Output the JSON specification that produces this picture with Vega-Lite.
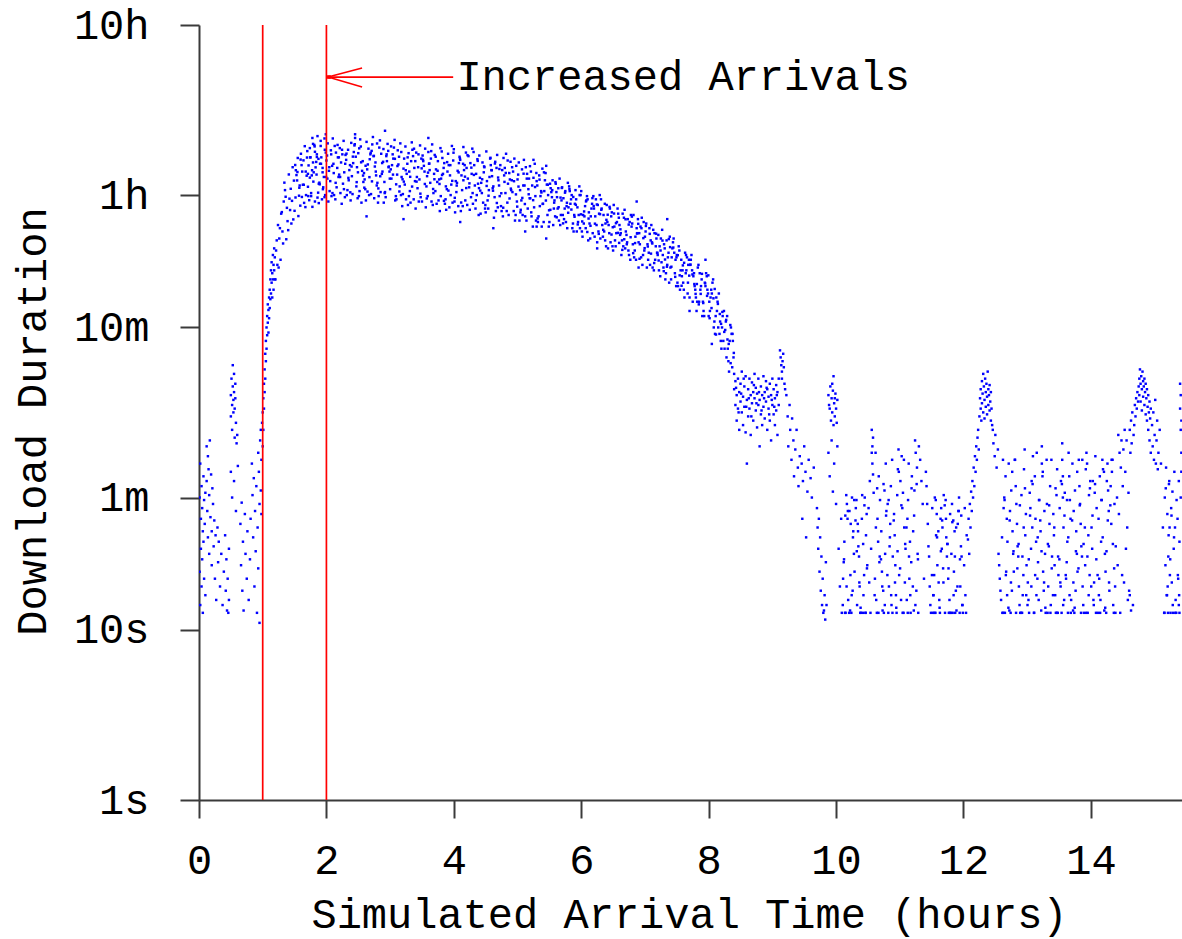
{
"$schema": "https://vega.github.io/schema/vega-lite/v6.json",
"width": 983, "height": 775,
"autosize": {"type": "none"},
"padding": {"left": 199, "top": 25, "right": 0, "bottom": 139},
"background": "white",
"config": {"view": {"stroke": null}, "font": "Liberation Mono"},
"datasets": {
"vlines": [{"t": 1}, {"t": 2}],
"shaft": [{"t": 2, "t2": 3.99, "d": 17800}],
"barbs": [{"t": 2.025, "d": 17800, "t2": 2.56, "d2": 20100}, {"t": 2.025, "d": 17800, "t2": 2.56, "d2": 15550}],
"tip": [{"t": 2.04, "d": 17800}],
"label": [{"t": 4.04, "d": 17800, "txt": "Increased Arrivals"}],
"pts": [
{"t":0.01,"d":60},{"t":0.01,"d":22},{"t":0.02,"d":95},{"t":0.02,"d":14},{"t":0.03,"d":45},{"t":0.03,"d":30},{"t":0.04,"d":70},{"t":0.04,"d":18},{"t":0.05,"d":52},{"t":0.05,"d":26},{"t":0.06,"d":38},{"t":0.06,"d":12.6},{"t":0.07,"d":80},{"t":0.07,"d":33},{"t":0.08,"d":58},{"t":0.08,"d":20},{"t":0.09,"d":42},{"t":0.1,"d":64},{"t":0.1,"d":16},
{"t":0.12,"d":120},{"t":0.12,"d":75},{"t":0.13,"d":50},{"t":0.14,"d":105},{"t":0.14,"d":35},{"t":0.15,"d":88},{"t":0.16,"d":62},{"t":0.16,"d":28},{"t":0.17,"d":130},{"t":0.18,"d":46},{"t":0.19,"d":82},{"t":0.2,"d":38},{"t":0.2,"d":24},{"t":0.21,"d":68},{"t":0.22,"d":55},{"t":0.23,"d":31},{"t":0.24,"d":44},{"t":0.25,"d":20},{"t":0.26,"d":36},{"t":0.27,"d":15},
{"t":0.29,"d":40},{"t":0.3,"d":25},{"t":0.31,"d":33},{"t":0.33,"d":18},{"t":0.35,"d":28},{"t":0.37,"d":14},{"t":0.39,"d":22},{"t":0.41,"d":36},{"t":0.42,"d":17},{"t":0.43,"d":26},{"t":0.44,"d":13},{"t":0.45,"d":20},{"t":0.46,"d":12.6},{"t":0.47,"d":30},{"t":0.47,"d":15},
{"t":0.5,"d":180},{"t":0.5,"d":240},{"t":0.51,"d":300},{"t":0.52,"d":210},{"t":0.52,"d":150},{"t":0.53,"d":270},{"t":0.53,"d":360},{"t":0.54,"d":225},{"t":0.54,"d":190},{"t":0.55,"d":320},{"t":0.55,"d":250},{"t":0.56,"d":200},{"t":0.56,"d":135},{"t":0.57,"d":280},{"t":0.57,"d":230},{"t":0.58,"d":165},{"t":0.59,"d":125},{"t":0.6,"d":140},{"t":0.5,"d":85},{"t":0.52,"d":60},{"t":0.55,"d":75},{"t":0.58,"d":50},{"t":0.61,"d":92},
{"t":0.65,"d":42},{"t":0.66,"d":24},{"t":0.67,"d":56},{"t":0.68,"d":17},{"t":0.69,"d":33},{"t":0.7,"d":13},{"t":0.72,"d":48},{"t":0.73,"d":28},{"t":0.75,"d":20},{"t":0.76,"d":38},{"t":0.78,"d":15},{"t":0.8,"d":26},{"t":0.81,"d":45},
{"t":0.83,"d":95},{"t":0.84,"d":62},{"t":0.85,"d":35},{"t":0.86,"d":78},{"t":0.87,"d":18},{"t":0.88,"d":50},{"t":0.89,"d":29},{"t":0.9,"d":70},{"t":0.91,"d":12.6},{"t":0.92,"d":40},{"t":0.93,"d":110},{"t":0.93,"d":23},{"t":0.94,"d":85},{"t":0.95,"d":55},{"t":0.95,"d":11},{"t":0.96,"d":130},{"t":0.97,"d":66},{"t":0.97,"d":150},{"t":0.98,"d":100},{"t":0.98,"d":48},
{"t":0.99,"d":165},{"t":1.0,"d":120},{"t":1.0,"d":190},{"t":1.01,"d":150},{"t":1.01,"d":230},{"t":1.02,"d":200},{"t":1.02,"d":280},{"t":1.03,"d":250},{"t":1.03,"d":340},{"t":1.04,"d":300},{"t":1.04,"d":420},{"t":1.05,"d":380},{"t":1.05,"d":500},{"t":1.06,"d":450},{"t":1.06,"d":600},{"t":1.07,"d":540},{"t":1.07,"d":700},{"t":1.08,"d":640},{"t":1.08,"d":820},{"t":1.09,"d":760},{"t":1.09,"d":560},{"t":1.1,"d":900},{"t":1.1,"d":680},{"t":1.11,"d":1000},{"t":1.11,"d":780},{"t":1.12,"d":1150},{"t":1.12,"d":880},{"t":1.13,"d":1300},{"t":1.13,"d":950},{"t":1.14,"d":1100},{"t":1.14,"d":1450},{"t":1.15,"d":1250},{"t":1.15,"d":900},{"t":1.16,"d":1600},{"t":1.16,"d":1150},{"t":1.17,"d":1400},{"t":1.17,"d":1000},{"t":1.18,"d":1750},{"t":1.18,"d":1300},{"t":1.19,"d":1550},{"t":1.19,"d":1150},
{"t":1.2,"d":1150},{"t":1.21,"d":1700},{"t":1.22,"d":1950},{"t":1.23,"d":1400},{"t":1.24,"d":2400},{"t":1.25,"d":1350},{"t":1.26,"d":2000},{"t":1.27,"d":2300},{"t":1.28,"d":1500},{"t":1.29,"d":2800},
{"t":1.33,"d":3300},{"t":1.37,"d":1980},{"t":1.3,"d":2860},{"t":1.35,"d":3850},{"t":1.39,"d":2530},{"t":1.32,"d":1870},{"t":1.36,"d":3520},{"t":1.31,"d":2200},{"t":1.38,"d":3030},{"t":1.34,"d":4260},
{"t":1.46,"d":3330},{"t":1.41,"d":4760},{"t":1.48,"d":2590},{"t":1.44,"d":3920},{"t":1.4,"d":2240},{"t":1.49,"d":4380},{"t":1.43,"d":2940},{"t":1.47,"d":5250},{"t":1.42,"d":3430},{"t":1.45,"d":2450},
{"t":1.59,"d":3120},{"t":1.54,"d":4390},{"t":1.52,"d":5040},{"t":1.57,"d":3570},{"t":1.55,"d":5950},{"t":1.5,"d":2910},{"t":1.58,"d":4100},{"t":1.53,"d":4720},{"t":1.56,"d":2710},{"t":1.51,"d":5410},
{"t":1.61,"d":5400},{"t":1.65,"d":3240},{"t":1.69,"d":4680},{"t":1.6,"d":6300},{"t":1.63,"d":4140},{"t":1.67,"d":3060},{"t":1.64,"d":5760},{"t":1.68,"d":3600},{"t":1.62,"d":4950},{"t":1.66,"d":6980},
{"t":1.74,"d":4560},{"t":1.7,"d":6530},{"t":1.76,"d":3550},{"t":1.72,"d":5380},{"t":1.78,"d":3070},{"t":1.75,"d":6000},{"t":1.71,"d":4030},{"t":1.79,"d":7200},{"t":1.77,"d":4700},{"t":1.73,"d":3360},
{"t":1.87,"d":3720},{"t":1.83,"d":5240},{"t":1.85,"d":6030},{"t":1.89,"d":4260},{"t":1.81,"d":7100},{"t":1.86,"d":3480},{"t":1.8,"d":4900},{"t":1.84,"d":5640},{"t":1.88,"d":3230},{"t":1.82,"d":6470},
{"t":1.92,"d":6000},{"t":1.98,"d":3600},{"t":1.94,"d":5200},{"t":1.91,"d":7000},{"t":1.96,"d":4600},{"t":1.93,"d":3400},{"t":1.99,"d":6400},{"t":1.95,"d":4000},{"t":1.9,"d":5500},{"t":1.97,"d":7750},
{"t":1.71,"d":4800},{"t":1.74,"d":6800},{"t":1.76,"d":3700},{"t":1.79,"d":5600},{"t":1.82,"d":3300},{"t":1.85,"d":6250},{"t":1.88,"d":4200},{"t":1.91,"d":7500},{"t":1.94,"d":4900},{"t":1.97,"d":3500},{"t":1.99,"d":8200},{"t":1.86,"d":8000},{"t":1.78,"d":7800},
{"t":2.05,"d":3800},{"t":2.09,"d":5350},{"t":2.01,"d":6150},{"t":2.06,"d":4350},{"t":2.02,"d":7250},{"t":2.08,"d":3550},{"t":2.04,"d":5000},{"t":2.0,"d":5750},{"t":2.03,"d":3300},{"t":2.07,"d":6600},
{"t":2.18,"d":6000},{"t":2.12,"d":3600},{"t":2.17,"d":5200},{"t":2.13,"d":7000},{"t":2.19,"d":4600},{"t":2.14,"d":3400},{"t":2.15,"d":6400},{"t":2.16,"d":4000},{"t":2.11,"d":5500},{"t":2.1,"d":7750},
{"t":2.2,"d":4750},{"t":2.21,"d":6800},{"t":2.22,"d":3700},{"t":2.23,"d":5600},{"t":2.24,"d":3200},{"t":2.25,"d":6250},{"t":2.26,"d":4200},{"t":2.27,"d":7500},{"t":2.28,"d":4900},{"t":2.29,"d":3500},
{"t":2.33,"d":3850},{"t":2.37,"d":5400},{"t":2.3,"d":6200},{"t":2.35,"d":4400},{"t":2.39,"d":7300},{"t":2.32,"d":3600},{"t":2.36,"d":5050},{"t":2.31,"d":5800},{"t":2.38,"d":3350},{"t":2.34,"d":6650},
{"t":2.46,"d":6050},{"t":2.41,"d":3650},{"t":2.48,"d":5250},{"t":2.44,"d":7050},{"t":2.4,"d":4650},{"t":2.49,"d":3450},{"t":2.43,"d":6450},{"t":2.47,"d":4050},{"t":2.42,"d":5550},{"t":2.45,"d":7800},
{"t":2.59,"d":4850},{"t":2.54,"d":6950},{"t":2.52,"d":3800},{"t":2.57,"d":5700},{"t":2.55,"d":3250},{"t":2.5,"d":6350},{"t":2.58,"d":4300},{"t":2.53,"d":7650},{"t":2.56,"d":5000},{"t":2.51,"d":3550},
{"t":2.61,"d":3900},{"t":2.65,"d":5450},{"t":2.69,"d":6250},{"t":2.6,"d":4450},{"t":2.63,"d":7400},{"t":2.67,"d":3600},{"t":2.64,"d":5100},{"t":2.68,"d":5850},{"t":2.62,"d":3350},{"t":2.66,"d":6750},
{"t":2.74,"d":6100},{"t":2.7,"d":3650},{"t":2.76,"d":5300},{"t":2.72,"d":7150},{"t":2.78,"d":4700},{"t":2.75,"d":3450},{"t":2.71,"d":6550},{"t":2.79,"d":4100},{"t":2.77,"d":5600},{"t":2.73,"d":7900},
{"t":2.87,"d":4800},{"t":2.83,"d":6850},{"t":2.85,"d":3750},{"t":2.89,"d":5650},{"t":2.81,"d":3250},{"t":2.86,"d":6300},{"t":2.8,"d":4250},{"t":2.84,"d":7550},{"t":2.88,"d":4950},{"t":2.82,"d":3550},
{"t":2.92,"d":3750},{"t":2.98,"d":5300},{"t":2.94,"d":6100},{"t":2.91,"d":4300},{"t":2.96,"d":7200},{"t":2.93,"d":3500},{"t":2.99,"d":4950},{"t":2.95,"d":5700},{"t":2.9,"d":3250},{"t":2.97,"d":6550},
{"t":3.05,"d":5900},{"t":3.09,"d":3550},{"t":3.01,"d":5100},{"t":3.06,"d":6850},{"t":3.02,"d":4500},{"t":3.08,"d":3350},{"t":3.04,"d":6250},{"t":3.0,"d":3900},{"t":3.03,"d":5400},{"t":3.07,"d":7600},
{"t":3.18,"d":4600},{"t":3.12,"d":6600},{"t":3.17,"d":3600},{"t":3.13,"d":5450},{"t":3.19,"d":3100},{"t":3.14,"d":6050},{"t":3.15,"d":4050},{"t":3.16,"d":7250},{"t":3.11,"d":4750},{"t":3.1,"d":3400},
{"t":3.2,"d":3650},{"t":3.21,"d":5150},{"t":3.22,"d":5900},{"t":3.23,"d":4150},{"t":3.24,"d":6950},{"t":3.25,"d":3400},{"t":3.26,"d":4800},{"t":3.27,"d":5500},{"t":3.28,"d":3150},{"t":3.29,"d":6350},
{"t":3.33,"d":5700},{"t":3.37,"d":3400},{"t":3.3,"d":4950},{"t":3.35,"d":6650},{"t":3.39,"d":4350},{"t":3.32,"d":3250},{"t":3.36,"d":6100},{"t":3.31,"d":3800},{"t":3.38,"d":5200},{"t":3.34,"d":7350},
{"t":3.46,"d":4450},{"t":3.41,"d":6400},{"t":3.48,"d":3500},{"t":3.44,"d":5250},{"t":3.4,"d":3000},{"t":3.49,"d":5900},{"t":3.43,"d":3950},{"t":3.47,"d":7050},{"t":3.42,"d":4600},{"t":3.45,"d":3300},
{"t":3.59,"d":3550},{"t":3.54,"d":4950},{"t":3.52,"d":5700},{"t":3.57,"d":4050},{"t":3.55,"d":6750},{"t":3.5,"d":3300},{"t":3.58,"d":4650},{"t":3.53,"d":5350},{"t":3.56,"d":3050},{"t":3.51,"d":6150},
{"t":3.61,"d":5500},{"t":3.65,"d":3300},{"t":3.69,"d":4800},{"t":3.6,"d":6450},{"t":3.63,"d":4250},{"t":3.67,"d":3150},{"t":3.64,"d":5900},{"t":3.68,"d":3700},{"t":3.62,"d":5050},{"t":3.66,"d":7150},
{"t":3.74,"d":4300},{"t":3.7,"d":6200},{"t":3.76,"d":3350},{"t":3.72,"d":5100},{"t":3.78,"d":2900},{"t":3.75,"d":5700},{"t":3.71,"d":3800},{"t":3.79,"d":6800},{"t":3.77,"d":4450},{"t":3.73,"d":3200},
{"t":3.87,"d":3400},{"t":3.83,"d":4800},{"t":3.85,"d":5550},{"t":3.89,"d":3900},{"t":3.81,"d":6500},{"t":3.86,"d":3200},{"t":3.8,"d":4500},{"t":3.84,"d":5200},{"t":3.88,"d":2950},{"t":3.82,"d":5950},
{"t":3.92,"d":5400},{"t":3.98,"d":3250},{"t":3.94,"d":4700},{"t":3.91,"d":6300},{"t":3.96,"d":4150},{"t":3.93,"d":3050},{"t":3.99,"d":5750},{"t":3.95,"d":3600},{"t":3.9,"d":4950},{"t":3.97,"d":7000},
{"t":4.05,"d":4250},{"t":4.09,"d":6050},{"t":4.01,"d":3300},{"t":4.06,"d":5000},{"t":4.02,"d":2850},{"t":4.08,"d":5550},{"t":4.04,"d":3750},{"t":4.0,"d":6700},{"t":4.03,"d":4350},{"t":4.07,"d":3100},
{"t":4.18,"d":3350},{"t":4.12,"d":4700},{"t":4.17,"d":5400},{"t":4.13,"d":3850},{"t":4.19,"d":6400},{"t":4.14,"d":3100},{"t":4.15,"d":4400},{"t":4.16,"d":5050},{"t":4.11,"d":2900},{"t":4.1,"d":5800},
{"t":4.2,"d":5200},{"t":4.21,"d":3150},{"t":4.22,"d":4500},{"t":4.23,"d":6100},{"t":4.24,"d":4000},{"t":4.25,"d":2950},{"t":4.26,"d":5550},{"t":4.27,"d":3500},{"t":4.28,"d":4800},{"t":4.29,"d":6750},
{"t":4.33,"d":4100},{"t":4.37,"d":5850},{"t":4.3,"d":3200},{"t":4.35,"d":4800},{"t":4.39,"d":2750},{"t":4.32,"d":5400},{"t":4.36,"d":3600},{"t":4.31,"d":6450},{"t":4.38,"d":4200},{"t":4.34,"d":3000},
{"t":4.46,"d":3250},{"t":4.41,"d":4550},{"t":4.48,"d":5250},{"t":4.44,"d":3700},{"t":4.4,"d":6150},{"t":4.49,"d":3000},{"t":4.43,"d":4250},{"t":4.47,"d":4900},{"t":4.42,"d":2800},{"t":4.45,"d":5600},
{"t":4.59,"d":5050},{"t":4.54,"d":3000},{"t":4.52,"d":4350},{"t":4.57,"d":5900},{"t":4.55,"d":3850},{"t":4.5,"d":2850},{"t":4.58,"d":5400},{"t":4.53,"d":3350},{"t":4.56,"d":4600},{"t":4.51,"d":6500},
{"t":4.61,"d":3950},{"t":4.65,"d":5650},{"t":4.69,"d":3050},{"t":4.6,"d":4650},{"t":4.63,"d":2650},{"t":4.67,"d":5200},{"t":4.64,"d":3500},{"t":4.68,"d":6200},{"t":4.62,"d":4050},{"t":4.66,"d":2900},
{"t":4.74,"d":3100},{"t":4.7,"d":4400},{"t":4.76,"d":5050},{"t":4.72,"d":3550},{"t":4.78,"d":5950},{"t":4.75,"d":2900},{"t":4.71,"d":4100},{"t":4.79,"d":4700},{"t":4.77,"d":2700},{"t":4.73,"d":5400},
{"t":4.87,"d":4850},{"t":4.83,"d":2900},{"t":4.85,"d":4200},{"t":4.89,"d":5650},{"t":4.81,"d":3700},{"t":4.86,"d":2750},{"t":4.8,"d":5200},{"t":4.84,"d":3250},{"t":4.88,"d":4450},{"t":4.82,"d":6300},
{"t":4.92,"d":3750},{"t":4.98,"d":5350},{"t":4.94,"d":2900},{"t":4.91,"d":4400},{"t":4.96,"d":2550},{"t":4.93,"d":4950},{"t":4.99,"d":3300},{"t":4.95,"d":5900},{"t":4.9,"d":3850},{"t":4.97,"d":2750},
{"t":5.05,"d":2950},{"t":5.09,"d":4100},{"t":5.01,"d":4750},{"t":5.06,"d":3350},{"t":5.02,"d":5600},{"t":5.08,"d":2750},{"t":5.04,"d":3850},{"t":5.0,"d":4450},{"t":5.03,"d":2550},{"t":5.07,"d":5100},
{"t":5.18,"d":4500},{"t":5.12,"d":2700},{"t":5.17,"d":3900},{"t":5.13,"d":5250},{"t":5.19,"d":3450},{"t":5.14,"d":2550},{"t":5.15,"d":4800},{"t":5.16,"d":3000},{"t":5.11,"d":4100},{"t":5.1,"d":5800},
{"t":5.2,"d":3450},{"t":5.21,"d":4950},{"t":5.22,"d":2700},{"t":5.23,"d":4100},{"t":5.24,"d":2350},{"t":5.25,"d":4550},{"t":5.26,"d":3050},{"t":5.27,"d":5500},{"t":5.28,"d":3550},{"t":5.29,"d":2550},
{"t":5.33,"d":2700},{"t":5.37,"d":3800},{"t":5.3,"d":4350},{"t":5.35,"d":3100},{"t":5.39,"d":5150},{"t":5.32,"d":2500},{"t":5.36,"d":3550},{"t":5.31,"d":4100},{"t":5.38,"d":2350},{"t":5.34,"d":4700},
{"t":5.46,"d":4150},{"t":5.41,"d":2500},{"t":5.48,"d":3600},{"t":5.44,"d":4850},{"t":5.4,"d":3200},{"t":5.49,"d":2350},{"t":5.43,"d":4400},{"t":5.47,"d":2750},{"t":5.42,"d":3800},{"t":5.45,"d":5350},
{"t":5.59,"d":2700},{"t":5.54,"d":3500},{"t":5.52,"d":3950},{"t":5.57,"d":3000},{"t":5.55,"d":4400},{"t":5.5,"d":2500},{"t":5.58,"d":3350},{"t":5.53,"d":3750},{"t":5.56,"d":2400},{"t":5.51,"d":4200},
{"t":5.61,"d":3750},{"t":5.65,"d":2550},{"t":5.69,"d":3350},{"t":5.6,"d":4200},{"t":5.63,"d":3000},{"t":5.67,"d":2400},{"t":5.64,"d":3950},{"t":5.68,"d":2750},{"t":5.62,"d":3500},{"t":5.66,"d":4500},
{"t":5.74,"d":3000},{"t":5.7,"d":4000},{"t":5.76,"d":2500},{"t":5.72,"d":3450},{"t":5.78,"d":2300},{"t":5.75,"d":3800},{"t":5.71,"d":2750},{"t":5.79,"d":4250},{"t":5.77,"d":3100},{"t":5.73,"d":2600},
{"t":5.87,"d":2450},{"t":5.83,"d":3200},{"t":5.85,"d":3600},{"t":5.89,"d":2750},{"t":5.81,"d":4050},{"t":5.86,"d":2300},{"t":5.8,"d":3050},{"t":5.84,"d":3400},{"t":5.88,"d":2200},{"t":5.82,"d":3800},
{"t":5.92,"d":3400},{"t":5.98,"d":2300},{"t":5.94,"d":3050},{"t":5.91,"d":3850},{"t":5.96,"d":2750},{"t":5.93,"d":2200},{"t":5.99,"d":3600},{"t":5.95,"d":2500},{"t":5.9,"d":3200},{"t":5.97,"d":4050},
{"t":6.05,"d":2700},{"t":6.09,"d":3550},{"t":6.01,"d":2200},{"t":6.06,"d":3100},{"t":6.02,"d":2050},{"t":6.08,"d":3350},{"t":6.04,"d":2450},{"t":6.0,"d":3800},{"t":6.03,"d":2750},{"t":6.07,"d":2300},
{"t":6.18,"d":2150},{"t":6.12,"d":2850},{"t":6.17,"d":3200},{"t":6.13,"d":2450},{"t":6.19,"d":3550},{"t":6.14,"d":2000},{"t":6.15,"d":2700},{"t":6.16,"d":3000},{"t":6.11,"d":1950},{"t":6.1,"d":3400},
{"t":6.2,"d":3000},{"t":6.21,"d":2050},{"t":6.22,"d":2700},{"t":6.23,"d":3400},{"t":6.24,"d":2400},{"t":6.25,"d":1900},{"t":6.26,"d":3150},{"t":6.27,"d":2200},{"t":6.28,"d":2800},{"t":6.29,"d":3600},
{"t":6.33,"d":2400},{"t":6.37,"d":3200},{"t":6.3,"d":2000},{"t":6.35,"d":2750},{"t":6.39,"d":1800},{"t":6.32,"d":3000},{"t":6.36,"d":2200},{"t":6.31,"d":3400},{"t":6.38,"d":2450},{"t":6.34,"d":2050},
{"t":6.46,"d":1900},{"t":6.41,"d":2500},{"t":6.48,"d":2850},{"t":6.44,"d":2150},{"t":6.4,"d":3150},{"t":6.49,"d":1800},{"t":6.43,"d":2400},{"t":6.47,"d":2700},{"t":6.42,"d":1750},{"t":6.45,"d":3000},
{"t":6.59,"d":2650},{"t":6.54,"d":1800},{"t":6.52,"d":2350},{"t":6.57,"d":3000},{"t":6.55,"d":2150},{"t":6.5,"d":1700},{"t":6.58,"d":2800},{"t":6.53,"d":1950},{"t":6.56,"d":2500},{"t":6.51,"d":3150},
{"t":6.61,"d":2100},{"t":6.65,"d":2800},{"t":6.69,"d":1750},{"t":6.6,"d":2400},{"t":6.63,"d":1600},{"t":6.67,"d":2650},{"t":6.64,"d":1950},{"t":6.68,"d":2950},{"t":6.62,"d":2150},{"t":6.66,"d":1800},
{"t":6.74,"d":1700},{"t":6.7,"d":2200},{"t":6.76,"d":2500},{"t":6.72,"d":1900},{"t":6.78,"d":2750},{"t":6.75,"d":1600},{"t":6.71,"d":2100},{"t":6.79,"d":2350},{"t":6.77,"d":1500},{"t":6.73,"d":2600},
{"t":6.87,"d":2300},{"t":6.83,"d":1550},{"t":6.85,"d":2050},{"t":6.89,"d":2600},{"t":6.81,"d":1850},{"t":6.86,"d":1500},{"t":6.8,"d":2450},{"t":6.84,"d":1700},{"t":6.88,"d":2150},{"t":6.82,"d":2750},
{"t":6.92,"d":1850},{"t":6.98,"d":2500},{"t":6.94,"d":1550},{"t":6.91,"d":2150},{"t":6.96,"d":1400},{"t":6.93,"d":2350},{"t":6.99,"d":1700},{"t":6.95,"d":2650},{"t":6.9,"d":1900},{"t":6.97,"d":1600},
{"t":7.05,"d":1500},{"t":7.09,"d":1950},{"t":7.01,"d":2200},{"t":7.06,"d":1650},{"t":7.02,"d":2450},{"t":7.08,"d":1400},{"t":7.04,"d":1850},{"t":7.0,"d":2050},{"t":7.03,"d":1350},{"t":7.07,"d":2300},
{"t":7.18,"d":2000},{"t":7.12,"d":1350},{"t":7.17,"d":1800},{"t":7.13,"d":2250},{"t":7.19,"d":1650},{"t":7.14,"d":1300},{"t":7.15,"d":2150},{"t":7.16,"d":1500},{"t":7.11,"d":1900},{"t":7.1,"d":2400},
{"t":7.2,"d":1600},{"t":7.21,"d":2100},{"t":7.22,"d":1300},{"t":7.23,"d":1800},{"t":7.24,"d":1200},{"t":7.25,"d":2000},{"t":7.26,"d":1450},{"t":7.27,"d":2250},{"t":7.28,"d":1600},{"t":7.29,"d":1350},
{"t":7.33,"d":1250},{"t":7.37,"d":1650},{"t":7.3,"d":1850},{"t":7.35,"d":1400},{"t":7.39,"d":2050},{"t":7.32,"d":1150},{"t":7.36,"d":1550},{"t":7.31,"d":1750},{"t":7.38,"d":1100},{"t":7.34,"d":1950},
{"t":7.46,"d":1650},{"t":7.41,"d":1150},{"t":7.48,"d":1500},{"t":7.44,"d":1900},{"t":7.4,"d":1350},{"t":7.49,"d":1050},{"t":7.43,"d":1750},{"t":7.47,"d":1250},{"t":7.42,"d":1550},{"t":7.45,"d":2000},
{"t":7.59,"d":1300},{"t":7.54,"d":1700},{"t":7.52,"d":1050},{"t":7.57,"d":1500},{"t":7.55,"d":1000},{"t":7.5,"d":1600},{"t":7.58,"d":1200},{"t":7.53,"d":1800},{"t":7.56,"d":1300},{"t":7.51,"d":1100},
{"t":7.61,"d":1000},{"t":7.65,"d":1300},{"t":7.69,"d":1500},{"t":7.6,"d":1100},{"t":7.63,"d":1650},{"t":7.67,"d":950},{"t":7.64,"d":1250},{"t":7.68,"d":1400},{"t":7.62,"d":900},{"t":7.66,"d":1550},
{"t":7.74,"d":1300},{"t":7.7,"d":900},{"t":7.76,"d":1200},{"t":7.72,"d":1500},{"t":7.78,"d":1050},{"t":7.75,"d":850},{"t":7.71,"d":1400},{"t":7.79,"d":1000},{"t":7.77,"d":1250},{"t":7.73,"d":1600},
{"t":7.87,"d":1000},{"t":7.83,"d":1350},{"t":7.85,"d":850},{"t":7.89,"d":1150},{"t":7.81,"d":750},{"t":7.86,"d":1250},{"t":7.8,"d":900},{"t":7.84,"d":1400},{"t":7.88,"d":1050},{"t":7.82,"d":850},
{"t":7.92,"d":750},{"t":7.98,"d":1000},{"t":7.94,"d":1100},{"t":7.91,"d":850},{"t":7.96,"d":1250},{"t":7.93,"d":700},{"t":7.99,"d":950},{"t":7.95,"d":1050},{"t":7.9,"d":700},{"t":7.97,"d":1200},
{"t":8.05,"d":950},{"t":8.09,"d":650},{"t":8.01,"d":850},{"t":8.06,"d":1100},{"t":8.02,"d":750},{"t":8.08,"d":600},{"t":8.04,"d":1000},{"t":8.0,"d":700},{"t":8.03,"d":900},{"t":8.07,"d":1150},
{"t":8.18,"d":650},{"t":8.12,"d":900},{"t":8.17,"d":550},{"t":8.13,"d":750},{"t":8.19,"d":500},{"t":8.14,"d":850},{"t":8.15,"d":600},{"t":8.16,"d":950},{"t":8.11,"d":700},{"t":8.1,"d":550},
{"t":8.2,"d":450},{"t":8.21,"d":600},{"t":8.22,"d":700},{"t":8.23,"d":500},{"t":8.24,"d":750},{"t":8.25,"d":450},{"t":8.26,"d":580},{"t":8.27,"d":650},{"t":8.28,"d":400},{"t":8.29,"d":700},
{"t":8.33,"d":500},{"t":8.37,"d":350},{"t":8.3,"d":450},{"t":8.35,"d":600},{"t":8.39,"d":400},{"t":8.32,"d":330},{"t":8.36,"d":550},{"t":8.31,"d":380},{"t":8.38,"d":500},{"t":8.34,"d":620},
{"t":1.515,"d":3485},{"t":1.545,"d":4920},{"t":1.575,"d":3977},{"t":1.595,"d":5822},
{"t":1.675,"d":4950},{"t":1.615,"d":3510},{"t":1.695,"d":5985},{"t":1.645,"d":4140},
{"t":1.745,"d":6000},{"t":1.795,"d":4320},{"t":1.715,"d":3552},{"t":1.775,"d":5040},
{"t":1.895,"d":4165},{"t":1.875,"d":5880},{"t":1.845,"d":4753},{"t":1.815,"d":6958},
{"t":1.915,"d":5500},{"t":1.945,"d":3900},{"t":1.975,"d":6650},{"t":1.995,"d":4600},
{"t":2.075,"d":6250},{"t":2.015,"d":4500},{"t":2.095,"d":3700},{"t":2.045,"d":5250},
{"t":2.145,"d":4250},{"t":2.195,"d":6000},{"t":2.115,"d":4850},{"t":2.175,"d":7100},
{"t":2.295,"d":5500},{"t":2.275,"d":3900},{"t":2.245,"d":6650},{"t":2.215,"d":4600},
{"t":2.315,"d":6310},{"t":2.345,"d":4545},{"t":2.375,"d":3737},{"t":2.395,"d":5300},
{"t":2.475,"d":4290},{"t":2.415,"d":6060},{"t":2.495,"d":4900},{"t":2.445,"d":7170},
{"t":2.545,"d":5610},{"t":2.595,"d":3980},{"t":2.515,"d":6780},{"t":2.575,"d":4690},
{"t":2.695,"d":6375},{"t":2.675,"d":4590},{"t":2.645,"d":3775},{"t":2.615,"d":5355},
{"t":2.715,"d":4335},{"t":2.745,"d":6120},{"t":2.775,"d":4950},{"t":2.795,"d":7240},
{"t":2.875,"d":5555},{"t":2.815,"d":3940},{"t":2.895,"d":6715},{"t":2.845,"d":4645},
{"t":2.945,"d":6250},{"t":2.995,"d":4500},{"t":2.915,"d":3700},{"t":2.975,"d":5250},
{"t":3.095,"d":4165},{"t":3.075,"d":5880},{"t":3.045,"d":4750},{"t":3.015,"d":6960},
{"t":3.115,"d":5335},{"t":3.145,"d":3780},{"t":3.175,"d":6450},{"t":3.195,"d":4460},
{"t":3.275,"d":6000},{"t":3.215,"d":4320},{"t":3.295,"d":3550},{"t":3.245,"d":5040},
{"t":3.345,"d":4040},{"t":3.395,"d":5700},{"t":3.315,"d":4610},{"t":3.375,"d":6745},
{"t":3.495,"d":5170},{"t":3.475,"d":3670},{"t":3.445,"d":6250},{"t":3.415,"d":4320},
{"t":3.515,"d":5810},{"t":3.545,"d":4185},{"t":3.575,"d":3440},{"t":3.595,"d":4880},
{"t":3.675,"d":3910},{"t":3.615,"d":5520},{"t":3.695,"d":4460},{"t":3.645,"d":6530},
{"t":3.745,"d":5005},{"t":3.795,"d":3550},{"t":3.715,"d":6050},{"t":3.775,"d":4185},
{"t":3.895,"d":5625},{"t":3.875,"d":4050},{"t":3.845,"d":3330},{"t":3.815,"d":4725},
{"t":3.915,"d":3825},{"t":3.945,"d":5400},{"t":3.975,"d":4365},{"t":3.995,"d":6390},
{"t":4.075,"d":4895},{"t":4.015,"d":3470},{"t":4.095,"d":5920},{"t":4.045,"d":4095},
{"t":4.145,"d":5500},{"t":4.195,"d":3960},{"t":4.115,"d":3256},{"t":4.175,"d":4620},
{"t":4.295,"d":3700},{"t":4.275,"d":5220},{"t":4.245,"d":4220},{"t":4.215,"d":6180},
{"t":4.315,"d":4730},{"t":4.345,"d":3355},{"t":4.375,"d":5720},{"t":4.395,"d":3955},
{"t":4.475,"d":5310},{"t":4.415,"d":3825},{"t":4.495,"d":3145},{"t":4.445,"d":4460},
{"t":4.545,"d":3570},{"t":4.595,"d":5040},{"t":4.515,"d":4075},{"t":4.575,"d":5965},
{"t":4.695,"d":4565},{"t":4.675,"d":3235},{"t":4.645,"d":5520},{"t":4.615,"d":3820},
{"t":4.715,"d":5125},{"t":4.745,"d":3690},{"t":4.775,"d":3035},{"t":4.795,"d":4305},
{"t":4.875,"d":3440},{"t":4.815,"d":4860},{"t":4.895,"d":3930},{"t":4.845,"d":5750},
{"t":4.945,"d":4345},{"t":4.995,"d":3080},{"t":4.915,"d":5250},{"t":4.975,"d":3635},
{"t":5.095,"d":4810},{"t":5.075,"d":3465},{"t":5.045,"d":2850},{"t":5.015,"d":4040},
{"t":5.115,"d":3190},{"t":5.145,"d":4500},{"t":5.175,"d":3640},{"t":5.195,"d":5325},
{"t":5.275,"d":4015},{"t":5.215,"d":2850},{"t":5.295,"d":4855},{"t":5.245,"d":3360},
{"t":5.345,"d":4440},{"t":5.395,"d":3195},{"t":5.315,"d":2625},{"t":5.375,"d":3730},
{"t":5.495,"d":2930},{"t":5.475,"d":4140},{"t":5.445,"d":3345},{"t":5.415,"d":4900},
{"t":5.515,"d":2950},{"t":5.545,"d":3850},{"t":5.575,"d":3250},{"t":5.595,"d":4290},
{"t":5.675,"d":3480},{"t":5.615,"d":2665},{"t":5.695,"d":3965},{"t":5.645,"d":3055},
{"t":5.745,"d":3720},{"t":5.795,"d":2835},{"t":5.715,"d":2455},{"t":5.775,"d":3245},
{"t":5.895,"d":2685},{"t":5.875,"d":3510},{"t":5.845,"d":2960},{"t":5.815,"d":3905},
{"t":5.915,"d":3155},{"t":5.945,"d":2420},{"t":5.975,"d":3600},{"t":5.995,"d":2775},
{"t":6.075,"d":3305},{"t":6.015,"d":2520},{"t":6.095,"d":2185},{"t":6.045,"d":2885},
{"t":6.145,"d":2375},{"t":6.195,"d":3105},{"t":6.115,"d":2620},{"t":6.175,"d":3455},
{"t":6.295,"d":2780},{"t":6.275,"d":2130},{"t":6.245,"d":3170},{"t":6.215,"d":2445},
{"t":6.315,"d":2950},{"t":6.345,"d":2250},{"t":6.375,"d":1950},{"t":6.395,"d":2575},
{"t":6.475,"d":2110},{"t":6.415,"d":2760},{"t":6.495,"d":2330},{"t":6.445,"d":3070},
{"t":6.545,"d":2460},{"t":6.595,"d":1885},{"t":6.515,"d":2805},{"t":6.575,"d":2160},
{"t":6.695,"d":2595},{"t":6.675,"d":1980},{"t":6.645,"d":1715},{"t":6.615,"d":2265},
{"t":6.715,"d":1850},{"t":6.745,"d":2415},{"t":6.775,"d":2035},{"t":6.795,"d":2690},
{"t":6.875,"d":2140},{"t":6.815,"d":1640},{"t":6.895,"d":2440},{"t":6.845,"d":1880},
{"t":6.945,"d":2300},{"t":6.995,"d":1755},{"t":6.915,"d":1520},{"t":6.975,"d":2010},
{"t":7.095,"d":1630},{"t":7.075,"d":2130},{"t":7.045,"d":1795},{"t":7.015,"d":2370},
{"t":7.115,"d":1870},{"t":7.145,"d":1435},{"t":7.175,"d":2135},{"t":7.195,"d":1645},
{"t":7.275,"d":1945},{"t":7.215,"d":1485},{"t":7.295,"d":1285},{"t":7.245,"d":1700},
{"t":7.345,"d":1365},{"t":7.395,"d":1780},{"t":7.315,"d":1505},{"t":7.375,"d":1985},
{"t":7.495,"d":1550},{"t":7.475,"d":1190},{"t":7.445,"d":1770},{"t":7.415,"d":1365},
{"t":7.515,"d":1595},{"t":7.545,"d":1215},{"t":7.575,"d":1055},{"t":7.595,"d":1390},
{"t":7.675,"d":1100},{"t":7.615,"d":1440},{"t":7.695,"d":1210},{"t":7.645,"d":1600},
{"t":7.745,"d":1230},{"t":7.795,"d":945},{"t":7.715,"d":1405},{"t":7.775,"d":1080},
{"t":7.895,"d":1240},{"t":7.875,"d":945},{"t":7.845,"d":820},{"t":7.815,"d":1080},
{"t":7.915,"d":835},{"t":7.945,"d":1090},{"t":7.975,"d":920},{"t":7.995,"d":1215},
{"t":8.075,"d":890},{"t":8.015,"d":680},{"t":8.095,"d":1010},{"t":8.045,"d":780},
{"t":8.145,"d":825},{"t":8.195,"d":630},{"t":8.115,"d":545},{"t":8.175,"d":720},
{"t":8.295,"d":510},{"t":8.275,"d":665},{"t":8.245,"d":565},{"t":8.215,"d":740},
{"t":8.315,"d":480},{"t":8.345,"d":370},{"t":8.375,"d":550},{"t":8.395,"d":425},
{"t":2.63,"d":2700},{"t":3.21,"d":2600},{"t":4.1,"d":2500},{"t":4.62,"d":2300},{"t":5.12,"d":2200},{"t":5.3,"d":2350},{"t":5.45,"d":2000},{"t":6.25,"d":1750},{"t":6.9,"d":1350},{"t":4.15,"d":6900},{"t":5.25,"d":5800},{"t":6.87,"d":3300},{"t":2.92,"d":8600},{"t":2.45,"d":8200},{"t":3.6,"d":7800},{"t":7.35,"d":2600},{"t":7.95,"d":1500},{"t":8.05,"d":480},{"t":7.7,"d":750},
{"t":8.4,"d":320},{"t":8.4,"d":260},{"t":8.42,"d":210},{"t":8.42,"d":290},{"t":8.44,"d":240},{"t":8.44,"d":170},{"t":8.46,"d":300},{"t":8.46,"d":200},{"t":8.48,"d":250},{"t":8.48,"d":150},{"t":8.5,"d":280},{"t":8.5,"d":220},{"t":8.52,"d":190},{"t":8.52,"d":330},{"t":8.54,"d":235},{"t":8.54,"d":160},{"t":8.56,"d":270},{"t":8.56,"d":205},{"t":8.58,"d":145},{"t":8.58,"d":310},{"t":8.6,"d":225},{"t":8.6,"d":95},{"t":8.62,"d":260},{"t":8.62,"d":180},{"t":8.64,"d":200},{"t":8.64,"d":300},{"t":8.66,"d":240},{"t":8.66,"d":140},{"t":8.68,"d":285},{"t":8.68,"d":215},{"t":8.7,"d":170},{"t":8.7,"d":250},{"t":8.72,"d":230},{"t":8.72,"d":320},{"t":8.74,"d":195},{"t":8.74,"d":265},{"t":8.76,"d":155},{"t":8.76,"d":245},{"t":8.78,"d":300},{"t":8.78,"d":210},{"t":8.8,"d":225},{"t":8.8,"d":120},{"t":8.82,"d":270},{"t":8.82,"d":185},{"t":8.84,"d":240},{"t":8.84,"d":160},{"t":8.86,"d":310},{"t":8.86,"d":205},{"t":8.88,"d":250},{"t":8.88,"d":175},{"t":8.9,"d":220},{"t":8.9,"d":290},{"t":8.92,"d":150},{"t":8.92,"d":260},{"t":8.94,"d":200},{"t":8.94,"d":235},{"t":8.96,"d":280},{"t":8.96,"d":170},{"t":8.98,"d":240},{"t":8.98,"d":130},{"t":9.0,"d":210},{"t":9.0,"d":300},{"t":9.02,"d":260},{"t":9.02,"d":185},{"t":9.04,"d":230},{"t":9.04,"d":160},{"t":9.06,"d":195},{"t":9.06,"d":275},{"t":9.08,"d":250},{"t":9.08,"d":140},{"t":9.1,"d":300},{"t":9.1,"d":210},
{"t":8.43,"d":265},{"t":8.47,"d":190},{"t":8.51,"d":245},{"t":8.55,"d":300},{"t":8.59,"d":205},{"t":8.63,"d":230},{"t":8.67,"d":180},{"t":8.71,"d":275},{"t":8.75,"d":215},{"t":8.79,"d":250},{"t":8.83,"d":195},{"t":8.87,"d":230},{"t":8.91,"d":265},{"t":8.95,"d":185},{"t":8.99,"d":225},{"t":9.03,"d":205},{"t":9.07,"d":240},
{"t":9.12,"d":440},{"t":9.13,"d":400},{"t":9.14,"d":360},{"t":9.15,"d":330},{"t":9.15,"d":300},{"t":9.16,"d":380},{"t":9.17,"d":420},{"t":9.18,"d":350},{"t":9.19,"d":280},{"t":9.2,"d":260},
{"t":9.22,"d":240},{"t":9.24,"d":180},{"t":9.25,"d":120},{"t":9.27,"d":210},{"t":9.28,"d":150},{"t":9.3,"d":100},{"t":9.31,"d":175},{"t":9.33,"d":130},{"t":9.34,"d":80},{"t":9.36,"d":115},{"t":9.38,"d":150},{"t":9.4,"d":90},{"t":9.41,"d":70},{"t":9.43,"d":105},
{"t":9.46,"d":95},{"t":9.48,"d":75},{"t":9.5,"d":120},{"t":9.52,"d":85},{"t":9.55,"d":65},{"t":9.57,"d":100},{"t":9.6,"d":78},{"t":9.62,"d":60},{"t":9.65,"d":90},{"t":9.47,"d":45},{"t":9.53,"d":35},
{"t":9.7,"d":52},{"t":9.71,"d":40},{"t":9.72,"d":30},{"t":9.73,"d":45},{"t":9.74,"d":22},{"t":9.75,"d":35},{"t":9.76,"d":17},{"t":9.77,"d":27},{"t":9.78,"d":14},{"t":9.79,"d":20},{"t":9.8,"d":12.6},{"t":9.81,"d":13},{"t":9.82,"d":16},{"t":9.83,"d":11.5},{"t":9.84,"d":25},{"t":9.85,"d":14},
{"t":9.88,"d":240},{"t":9.9,"d":200},{"t":9.91,"d":270},{"t":9.92,"d":170},{"t":9.93,"d":230},{"t":9.94,"d":190},{"t":9.95,"d":255},{"t":9.96,"d":160},{"t":9.97,"d":215},{"t":9.98,"d":180},{"t":9.99,"d":245},{"t":10.0,"d":200},{"t":10.01,"d":165},{"t":10.02,"d":225},{"t":9.96,"d":310},{"t":9.89,"d":210},{"t":9.94,"d":280},{"t":9.98,"d":230},
{"t":9.88,"d":110},{"t":9.9,"d":80},{"t":9.93,"d":130},{"t":9.95,"d":65},{"t":9.97,"d":95},{"t":10.0,"d":55},{"t":10.02,"d":120},
{"t":10.04,"d":30},{"t":10.06,"d":18},{"t":10.08,"d":45},{"t":10.09,"d":12.6},
{"t":10.14,"d":12.6},{"t":10.18,"d":45},{"t":10.11,"d":20},{"t":10.16,"d":62},{"t":10.19,"d":15},{"t":10.13,"d":33},{"t":10.17,"d":55},{"t":10.12,"d":25},{"t":10.15,"d":12.6},
{"t":10.27,"d":38},{"t":10.22,"d":13},{"t":10.25,"d":60},{"t":10.29,"d":22},{"t":10.21,"d":50},{"t":10.26,"d":17},{"t":10.23,"d":42},{"t":10.28,"d":28},{"t":10.24,"d":12.6},
{"t":10.32,"d":58},{"t":10.36,"d":27},{"t":10.39,"d":12.6},{"t":10.34,"d":42},{"t":10.37,"d":18},{"t":10.31,"d":52},{"t":10.35,"d":31},{"t":10.33,"d":14},{"t":10.38,"d":12.6},
{"t":10.49,"d":24},{"t":10.45,"d":60},{"t":10.43,"d":16},{"t":10.48,"d":48},{"t":10.42,"d":12.6},{"t":10.47,"d":36},{"t":10.41,"d":62},{"t":10.44,"d":21},{"t":10.46,"d":12.6},
{"t":10.51,"d":52},{"t":10.52,"d":19},{"t":10.53,"d":75},{"t":10.54,"d":12.6},{"t":10.55,"d":30},{"t":10.56,"d":150},{"t":10.57,"d":120},{"t":10.57,"d":95},{"t":10.58,"d":82},{"t":10.58,"d":135},{"t":10.59,"d":64},{"t":10.56,"d":110},
{"t":10.65,"d":45},{"t":10.61,"d":20},{"t":10.67,"d":80},{"t":10.63,"d":15},{"t":10.66,"d":33},{"t":10.69,"d":58},{"t":10.68,"d":25},{"t":10.62,"d":110},{"t":10.64,"d":12.6},
{"t":10.71,"d":38},{"t":10.73,"d":13},{"t":10.76,"d":66},{"t":10.72,"d":22},{"t":10.78,"d":95},{"t":10.74,"d":17},{"t":10.79,"d":50},{"t":10.77,"d":28},{"t":10.75,"d":12.6},
{"t":10.86,"d":70},{"t":10.89,"d":27},{"t":10.82,"d":12.6},{"t":10.85,"d":42},{"t":10.83,"d":18},{"t":10.88,"d":100},{"t":10.84,"d":31},{"t":10.81,"d":55},{"t":10.87,"d":14},
{"t":10.93,"d":24},{"t":10.97,"d":88},{"t":10.94,"d":16},{"t":10.91,"d":48},{"t":10.95,"d":12.6},{"t":10.92,"d":36},{"t":10.96,"d":62},{"t":10.99,"d":21},{"t":10.98,"d":115},
{"t":11.04,"d":52},{"t":11.08,"d":19},{"t":11.01,"d":75},{"t":11.06,"d":12.6},{"t":11.09,"d":30},{"t":11.03,"d":105},{"t":11.07,"d":40},{"t":11.02,"d":15},{"t":11.05,"d":64},
{"t":11.17,"d":12.6},{"t":11.12,"d":45},{"t":11.15,"d":20},{"t":11.19,"d":80},{"t":11.11,"d":15},{"t":11.16,"d":33},{"t":11.13,"d":58},{"t":11.18,"d":25},{"t":11.14,"d":95},
{"t":11.21,"d":38},{"t":11.22,"d":13},{"t":11.23,"d":66},{"t":11.24,"d":130},{"t":11.25,"d":110},{"t":11.26,"d":17},{"t":11.27,"d":90},{"t":11.28,"d":28},{"t":11.29,"d":12.6},{"t":11.3,"d":120},{"t":11.32,"d":100},{"t":11.34,"d":75},
{"t":11.36,"d":55},{"t":11.38,"d":20},{"t":11.42,"d":70},{"t":11.46,"d":27},{"t":11.49,"d":12.6},{"t":11.44,"d":42},{"t":11.47,"d":18},{"t":11.41,"d":85},{"t":11.45,"d":31},{"t":11.43,"d":55},{"t":11.48,"d":14},
{"t":11.59,"d":24},{"t":11.55,"d":60},{"t":11.53,"d":16},{"t":11.58,"d":48},{"t":11.52,"d":12.6},{"t":11.57,"d":36},{"t":11.51,"d":52},{"t":11.54,"d":21},{"t":11.56,"d":12.6},
{"t":11.65,"d":52},{"t":11.61,"d":19},{"t":11.67,"d":40},{"t":11.63,"d":12.6},{"t":11.66,"d":30},{"t":11.69,"d":62},{"t":11.68,"d":23},{"t":11.62,"d":15},{"t":11.64,"d":45},
{"t":11.71,"d":12.6},{"t":11.73,"d":35},{"t":11.76,"d":20},{"t":11.72,"d":58},{"t":11.78,"d":15},{"t":11.74,"d":27},{"t":11.79,"d":48},{"t":11.77,"d":12.6},{"t":11.75,"d":32},
{"t":11.86,"d":38},{"t":11.89,"d":13},{"t":11.82,"d":55},{"t":11.85,"d":22},{"t":11.83,"d":12.6},{"t":11.88,"d":17},{"t":11.84,"d":44},{"t":11.81,"d":28},{"t":11.87,"d":12.6},
{"t":11.93,"d":60},{"t":11.97,"d":27},{"t":11.94,"d":12.6},{"t":11.91,"d":42},{"t":11.95,"d":18},{"t":11.92,"d":50},{"t":11.96,"d":31},{"t":11.99,"d":12.6},{"t":11.98,"d":14},
{"t":12.01,"d":24},{"t":12.02,"d":52},{"t":12.03,"d":16},{"t":12.04,"d":12.6},{"t":12.05,"d":36},
{"t":12.07,"d":34},{"t":12.08,"d":45},{"t":12.09,"d":28},{"t":12.1,"d":55},{"t":12.11,"d":40},{"t":12.12,"d":65},{"t":12.13,"d":50},{"t":12.14,"d":75},{"t":12.15,"d":60},{"t":12.16,"d":90},{"t":12.17,"d":70},{"t":12.18,"d":105},{"t":12.19,"d":85},{"t":12.2,"d":120},{"t":12.21,"d":100},{"t":12.22,"d":135},{"t":12.23,"d":150},{"t":12.24,"d":115},
{"t":12.25,"d":180},{"t":12.26,"d":230},{"t":12.27,"d":200},{"t":12.27,"d":260},{"t":12.28,"d":170},{"t":12.29,"d":290},{"t":12.29,"d":215},{"t":12.3,"d":245},{"t":12.31,"d":190},{"t":12.31,"d":320},{"t":12.32,"d":270},{"t":12.33,"d":225},{"t":12.33,"d":175},{"t":12.34,"d":300},{"t":12.35,"d":250},{"t":12.35,"d":205},{"t":12.36,"d":280},{"t":12.37,"d":235},{"t":12.37,"d":185},{"t":12.38,"d":330},{"t":12.39,"d":260},{"t":12.39,"d":210},{"t":12.4,"d":240},{"t":12.41,"d":195},{"t":12.41,"d":275},{"t":12.42,"d":220},{"t":12.43,"d":170},{"t":12.43,"d":250},{"t":12.44,"d":200},{"t":12.45,"d":160},
{"t":12.46,"d":150},{"t":12.47,"d":125},{"t":12.49,"d":105},{"t":12.5,"d":140},{"t":12.52,"d":90},{"t":12.54,"d":115},
{"t":12.55,"d":28},{"t":12.56,"d":24},{"t":12.57,"d":20},{"t":12.58,"d":17},{"t":12.59,"d":15},
{"t":12.64,"d":60},{"t":12.68,"d":45},{"t":12.61,"d":12.6},{"t":12.66,"d":80},{"t":12.69,"d":33},{"t":12.63,"d":52},{"t":12.67,"d":22},{"t":12.62,"d":100},{"t":12.65,"d":12.6},
{"t":12.77,"d":38},{"t":12.72,"d":13},{"t":12.75,"d":66},{"t":12.79,"d":22},{"t":12.71,"d":95},{"t":12.76,"d":17},{"t":12.73,"d":50},{"t":12.78,"d":28},{"t":12.74,"d":12.6},
{"t":12.82,"d":70},{"t":12.86,"d":27},{"t":12.89,"d":12.6},{"t":12.84,"d":42},{"t":12.87,"d":18},{"t":12.81,"d":100},{"t":12.85,"d":31},{"t":12.83,"d":55},{"t":12.88,"d":14},
{"t":12.99,"d":24},{"t":12.95,"d":88},{"t":12.93,"d":16},{"t":12.98,"d":48},{"t":12.92,"d":12.6},{"t":12.97,"d":36},{"t":12.91,"d":62},{"t":12.94,"d":21},{"t":12.96,"d":115},
{"t":13.05,"d":52},{"t":13.01,"d":19},{"t":13.07,"d":75},{"t":13.03,"d":12.6},{"t":13.06,"d":30},{"t":13.09,"d":105},{"t":13.08,"d":40},{"t":13.02,"d":15},{"t":13.04,"d":64},
{"t":13.11,"d":12.6},{"t":13.13,"d":45},{"t":13.16,"d":20},{"t":13.12,"d":80},{"t":13.18,"d":15},{"t":13.14,"d":33},{"t":13.19,"d":58},{"t":13.17,"d":25},{"t":13.15,"d":110},
{"t":13.21,"d":38},{"t":13.22,"d":13},{"t":13.23,"d":120},{"t":13.23,"d":95},{"t":13.24,"d":80},{"t":13.25,"d":22},{"t":13.26,"d":17},{"t":13.27,"d":50},{"t":13.28,"d":28},{"t":13.29,"d":12.6},
{"t":13.36,"d":70},{"t":13.39,"d":27},{"t":13.32,"d":12.6},{"t":13.35,"d":42},{"t":13.33,"d":18},{"t":13.38,"d":100},{"t":13.34,"d":31},{"t":13.31,"d":55},{"t":13.37,"d":14},
{"t":13.43,"d":24},{"t":13.47,"d":88},{"t":13.44,"d":16},{"t":13.41,"d":48},{"t":13.45,"d":12.6},{"t":13.42,"d":36},{"t":13.46,"d":62},{"t":13.49,"d":21},{"t":13.48,"d":12.6},
{"t":13.51,"d":52},{"t":13.52,"d":19},{"t":13.53,"d":75},{"t":13.54,"d":12.6},{"t":13.55,"d":125},{"t":13.55,"d":100},{"t":13.56,"d":80},{"t":13.56,"d":60},{"t":13.57,"d":40},{"t":13.58,"d":15},{"t":13.59,"d":64},
{"t":13.64,"d":12.6},{"t":13.68,"d":45},{"t":13.61,"d":20},{"t":13.66,"d":80},{"t":13.69,"d":15},{"t":13.63,"d":33},{"t":13.67,"d":58},{"t":13.62,"d":25},{"t":13.65,"d":110},
{"t":13.77,"d":38},{"t":13.72,"d":13},{"t":13.75,"d":66},{"t":13.79,"d":22},{"t":13.71,"d":95},{"t":13.76,"d":17},{"t":13.73,"d":50},{"t":13.78,"d":28},{"t":13.74,"d":12.6},
{"t":13.82,"d":70},{"t":13.86,"d":27},{"t":13.89,"d":12.6},{"t":13.84,"d":42},{"t":13.87,"d":18},{"t":13.81,"d":100},{"t":13.85,"d":31},{"t":13.83,"d":55},{"t":13.88,"d":14},
{"t":13.91,"d":24},{"t":13.92,"d":88},{"t":13.93,"d":110},{"t":13.94,"d":95},{"t":13.95,"d":12.6},{"t":13.96,"d":36},{"t":13.97,"d":62},{"t":13.98,"d":21},{"t":13.99,"d":75},
{"t":14.09,"d":52},{"t":14.05,"d":19},{"t":14.03,"d":75},{"t":14.08,"d":12.6},{"t":14.02,"d":30},{"t":14.07,"d":105},{"t":14.01,"d":40},{"t":14.04,"d":15},{"t":14.06,"d":64},
{"t":14.11,"d":12.6},{"t":14.12,"d":45},{"t":14.13,"d":20},{"t":14.14,"d":80},{"t":14.15,"d":15},{"t":14.16,"d":33},{"t":14.17,"d":58},{"t":14.18,"d":100},{"t":14.19,"d":88},
{"t":14.25,"d":75},{"t":14.21,"d":13},{"t":14.27,"d":66},{"t":14.23,"d":22},{"t":14.26,"d":95},{"t":14.29,"d":17},{"t":14.28,"d":50},{"t":14.22,"d":28},{"t":14.24,"d":12.6},
{"t":14.31,"d":70},{"t":14.33,"d":85},{"t":14.36,"d":12.6},{"t":14.32,"d":42},{"t":14.38,"d":18},{"t":14.34,"d":100},{"t":14.39,"d":31},{"t":14.37,"d":55},{"t":14.35,"d":14},
{"t":14.41,"d":60},{"t":14.42,"d":24},{"t":14.43,"d":140},{"t":14.44,"d":48},{"t":14.45,"d":110},{"t":14.46,"d":12.6},{"t":14.47,"d":90},{"t":14.48,"d":130},{"t":14.49,"d":21},{"t":14.5,"d":70},
{"t":14.51,"d":115},{"t":14.52,"d":19},{"t":14.53,"d":150},{"t":14.54,"d":85},{"t":14.55,"d":30},{"t":14.56,"d":130},{"t":14.57,"d":40},{"t":14.58,"d":15},{"t":14.59,"d":64},
{"t":14.6,"d":17},{"t":14.61,"d":150},{"t":14.62,"d":110},{"t":14.63,"d":170},{"t":14.64,"d":125},{"t":14.65,"d":190},{"t":14.66,"d":14},{"t":14.67,"d":140},{"t":14.68,"d":160},{"t":14.69,"d":210},{"t":14.7,"d":180},{"t":14.71,"d":230},{"t":14.72,"d":200},{"t":14.73,"d":250},{"t":14.74,"d":220},{"t":14.61,"d":16},{"t":14.63,"d":13},
{"t":14.75,"d":270},{"t":14.76,"d":300},{"t":14.76,"d":240},{"t":14.77,"d":340},{"t":14.78,"d":280},{"t":14.78,"d":220},{"t":14.79,"d":310},{"t":14.8,"d":260},{"t":14.8,"d":195},{"t":14.81,"d":330},{"t":14.82,"d":290},{"t":14.82,"d":235},{"t":14.83,"d":270},{"t":14.84,"d":210},{"t":14.84,"d":300},{"t":14.85,"d":250},{"t":14.86,"d":185},{"t":14.86,"d":280},{"t":14.87,"d":230},{"t":14.88,"d":260},{"t":14.88,"d":170},{"t":14.89,"d":205},{"t":14.9,"d":240},{"t":14.9,"d":150},{"t":14.91,"d":190},{"t":14.92,"d":220},{"t":14.92,"d":130},{"t":14.93,"d":175},{"t":14.94,"d":110},{"t":14.94,"d":200},
{"t":14.96,"d":160},{"t":14.97,"d":120},{"t":14.98,"d":190},{"t":14.99,"d":100},{"t":15.0,"d":140},{"t":15.01,"d":225},{"t":15.02,"d":95},{"t":15.03,"d":130},{"t":15.04,"d":170},{"t":15.05,"d":88},{"t":15.06,"d":110},{"t":15.08,"d":150},{"t":15.1,"d":95},
{"t":15.13,"d":40},{"t":15.15,"d":12.6},{"t":15.16,"d":60},{"t":15.17,"d":24},{"t":15.18,"d":90},{"t":15.19,"d":16},{"t":15.2,"d":48},{"t":15.21,"d":12.6},{"t":15.22,"d":36},{"t":15.23,"d":75},{"t":15.24,"d":21},{"t":15.25,"d":12.6},{"t":15.26,"d":52},{"t":15.27,"d":19},{"t":15.28,"d":65},{"t":15.29,"d":12.6},{"t":15.3,"d":30},{"t":15.31,"d":85},{"t":15.32,"d":40},{"t":15.33,"d":15},{"t":15.34,"d":12.6},
{"t":15.36,"d":45},{"t":15.37,"d":20},{"t":15.38,"d":75},{"t":15.39,"d":12.6},{"t":15.4,"d":280},{"t":15.4,"d":200},{"t":15.41,"d":150},{"t":15.41,"d":240},{"t":15.42,"d":110},{"t":15.42,"d":85},{"t":15.41,"d":60},{"t":15.42,"d":170},{"t":15.39,"d":33},{"t":15.38,"d":14},
{"t":10.105,"d":14},{"t":10.125,"d":26},{"t":10.145,"d":47},{"t":10.165,"d":18},{"t":10.185,"d":50},
{"t":10.265,"d":35},{"t":10.205,"d":12.6},{"t":10.285,"d":58},{"t":10.225,"d":21},{"t":10.245,"d":16},
{"t":10.345,"d":38},{"t":10.385,"d":13.5},{"t":10.325,"d":29},{"t":10.305,"d":44},{"t":10.365,"d":19},
{"t":10.485,"d":23},{"t":10.445,"d":54},{"t":10.465,"d":12.6},{"t":10.405,"d":45},{"t":10.425,"d":32},
{"t":10.605,"d":16},{"t":10.625,"d":40},{"t":10.645,"d":68},{"t":10.665,"d":12.6},{"t":10.685,"d":27},
{"t":10.765,"d":14},{"t":10.705,"d":26},{"t":10.785,"d":47},{"t":10.725,"d":18},{"t":10.745,"d":72},
{"t":10.845,"d":35},{"t":10.885,"d":12.6},{"t":10.825,"d":58},{"t":10.805,"d":21},{"t":10.865,"d":16},
{"t":10.985,"d":85},{"t":10.945,"d":13.5},{"t":10.965,"d":29},{"t":10.905,"d":44},{"t":10.925,"d":19},
{"t":11.005,"d":23},{"t":11.025,"d":54},{"t":11.045,"d":12.6},{"t":11.065,"d":100},{"t":11.085,"d":32},
{"t":11.165,"d":16},{"t":11.105,"d":40},{"t":11.185,"d":68},{"t":11.125,"d":12.6},{"t":11.145,"d":27},
{"t":11.245,"d":14},{"t":11.285,"d":26},{"t":11.225,"d":47},{"t":11.205,"d":18},{"t":11.265,"d":72},
{"t":11.585,"d":35},{"t":11.545,"d":12.6},{"t":11.565,"d":58},{"t":11.505,"d":21},{"t":11.525,"d":16},
{"t":11.605,"d":38},{"t":11.625,"d":13.5},{"t":11.645,"d":29},{"t":11.665,"d":44},{"t":11.685,"d":19},
{"t":11.765,"d":23},{"t":11.705,"d":54},{"t":11.785,"d":12.6},{"t":11.725,"d":45},{"t":11.745,"d":32},
{"t":11.845,"d":16},{"t":11.885,"d":40},{"t":11.825,"d":43},{"t":11.805,"d":12.6},{"t":11.865,"d":27},
{"t":11.985,"d":14},{"t":11.945,"d":26},{"t":11.965,"d":47},{"t":11.905,"d":18},{"t":11.925,"d":50},
{"t":12.605,"d":35},{"t":12.625,"d":12.6},{"t":12.645,"d":58},{"t":12.665,"d":21},{"t":12.685,"d":16},
{"t":12.765,"d":85},{"t":12.705,"d":13.5},{"t":12.785,"d":29},{"t":12.725,"d":44},{"t":12.745,"d":19},
{"t":12.845,"d":23},{"t":12.885,"d":54},{"t":12.825,"d":12.6},{"t":12.805,"d":100},{"t":12.865,"d":32},
{"t":12.985,"d":16},{"t":12.945,"d":40},{"t":12.965,"d":68},{"t":12.905,"d":12.6},{"t":12.925,"d":27},
{"t":13.005,"d":14},{"t":13.025,"d":26},{"t":13.045,"d":47},{"t":13.065,"d":18},{"t":13.085,"d":72},
{"t":13.165,"d":35},{"t":13.105,"d":12.6},{"t":13.185,"d":58},{"t":13.125,"d":21},{"t":13.145,"d":16},
{"t":13.245,"d":85},{"t":13.285,"d":13.5},{"t":13.225,"d":29},{"t":13.205,"d":44},{"t":13.265,"d":19},
{"t":13.385,"d":23},{"t":13.345,"d":54},{"t":13.365,"d":12.6},{"t":13.305,"d":100},{"t":13.325,"d":32},
{"t":13.405,"d":16},{"t":13.425,"d":40},{"t":13.445,"d":68},{"t":13.465,"d":12.6},{"t":13.485,"d":27},
{"t":13.565,"d":14},{"t":13.505,"d":26},{"t":13.585,"d":47},{"t":13.525,"d":18},{"t":13.545,"d":72},
{"t":13.645,"d":35},{"t":13.685,"d":12.6},{"t":13.625,"d":58},{"t":13.605,"d":21},{"t":13.665,"d":16},
{"t":13.785,"d":85},{"t":13.745,"d":13.5},{"t":13.765,"d":29},{"t":13.705,"d":44},{"t":13.725,"d":19},
{"t":13.805,"d":23},{"t":13.825,"d":54},{"t":13.845,"d":12.6},{"t":13.865,"d":100},{"t":13.885,"d":32},
{"t":13.965,"d":16},{"t":13.905,"d":40},{"t":13.985,"d":68},{"t":13.925,"d":12.6},{"t":13.945,"d":27},
{"t":14.045,"d":14},{"t":14.085,"d":26},{"t":14.025,"d":47},{"t":14.005,"d":18},{"t":14.065,"d":72},
{"t":14.185,"d":35},{"t":14.145,"d":12.6},{"t":14.165,"d":58},{"t":14.105,"d":21},{"t":14.125,"d":16},
{"t":14.205,"d":85},{"t":14.225,"d":13.5},{"t":14.245,"d":29},{"t":14.265,"d":44},{"t":14.285,"d":19},
{"t":14.365,"d":23},{"t":14.305,"d":54},{"t":14.385,"d":12.6},{"t":14.325,"d":100},{"t":14.345,"d":32},
{"t":15.195,"d":16},{"t":15.235,"d":40},{"t":15.175,"d":68},{"t":15.155,"d":12.6},{"t":15.215,"d":27},
{"t":15.285,"d":14},{"t":15.245,"d":26},{"t":15.265,"d":47},{"t":15.205,"d":18},{"t":15.225,"d":72},
{"t":15.305,"d":35},{"t":15.325,"d":12.6},{"t":15.345,"d":58},{"t":15.365,"d":21},{"t":15.385,"d":16}
]
},
"layer": [
{
"data": {"name": "pts"},
"mark": {"type": "square", "size": 6, "color": "#0000ff", "opacity": 1, "clip": true},
"encoding": {
"x": {"field": "t", "type": "quantitative",
"scale": {"domain": [0, 15.43], "nice": false, "zero": false},
"axis": {"values": [0, 2, 4, 6, 8, 10, 12, 14], "format": "d", "title": "Simulated Arrival Time (hours)", "grid": false,
"domainColor": "#3a3a3a", "domainWidth": 2, "tickColor": "#3a3a3a", "tickWidth": 2, "tickSize": 18,
"labelFont": "Liberation Mono", "labelFontSize": 42, "labelColor": "#000000", "labelPadding": 22, "labelFlush": false, "labelOverlap": false,
"titleFont": "Liberation Mono", "titleFontSize": 42, "titleFontWeight": "normal", "titleColor": "#000000",
"titleX": 490, "titleY": 127, "titleAlign": "center", "titleBaseline": "alphabetic", "titleAnchor": "middle"}},
"y": {"field": "d", "type": "quantitative",
"scale": {"type": "log", "domain": [1, 36000], "nice": false},
"axis": {"values": [1, 10, 60, 600, 3600, 36000], "title": "Download Duration", "grid": false,
"labelExpr": "datum.value == 1 ? '1s' : datum.value == 10 ? '10s' : datum.value == 60 ? '1m' : datum.value == 600 ? '10m' : datum.value == 3600 ? '1h' : '10h'",
"domainColor": "#3a3a3a", "domainWidth": 2, "tickColor": "#3a3a3a", "tickWidth": 2, "tickSize": 19,
"labelFont": "Liberation Mono", "labelFontSize": 42, "labelColor": "#000000", "labelPadding": 31, "labelFlush": false, "labelOverlap": false, "labelBaseline": "middle",
"titleFont": "Liberation Mono", "titleFontSize": 42, "titleFontWeight": "normal", "titleColor": "#000000",
"titleAngle": -90, "titleX": -167, "titleY": 396, "titleAlign": "center", "titleBaseline": "middle", "titleAnchor": "middle"}}
}
},
{
"data": {"name": "vlines"},
"mark": {"type": "rule", "color": "#ff0000", "strokeWidth": 1.7},
"encoding": {"x": {"field": "t", "type": "quantitative"}}
},
{
"data": {"name": "shaft"},
"mark": {"type": "rule", "color": "#ff0000", "strokeWidth": 1.7},
"encoding": {"x": {"field": "t", "type": "quantitative"}, "x2": {"field": "t2"}, "y": {"field": "d", "type": "quantitative"}}
},
{
"data": {"name": "barbs"},
"mark": {"type": "rule", "color": "#ff0000", "strokeWidth": 1.5},
"encoding": {"x": {"field": "t", "type": "quantitative"}, "x2": {"field": "t2"}, "y": {"field": "d", "type": "quantitative"}, "y2": {"field": "d2"}}
},
{
"data": {"name": "tip"},
"mark": {"type": "square", "size": 14, "color": "#ff0000", "opacity": 1},
"encoding": {"x": {"field": "t", "type": "quantitative"}, "y": {"field": "d", "type": "quantitative"}}
},
{
"data": {"name": "label"},
"mark": {"type": "text", "font": "Liberation Mono", "fontSize": 42, "color": "#000000", "align": "left", "baseline": "middle"},
"encoding": {"x": {"field": "t", "type": "quantitative"}, "y": {"field": "d", "type": "quantitative"}, "text": {"field": "txt"}}
}
]
}
